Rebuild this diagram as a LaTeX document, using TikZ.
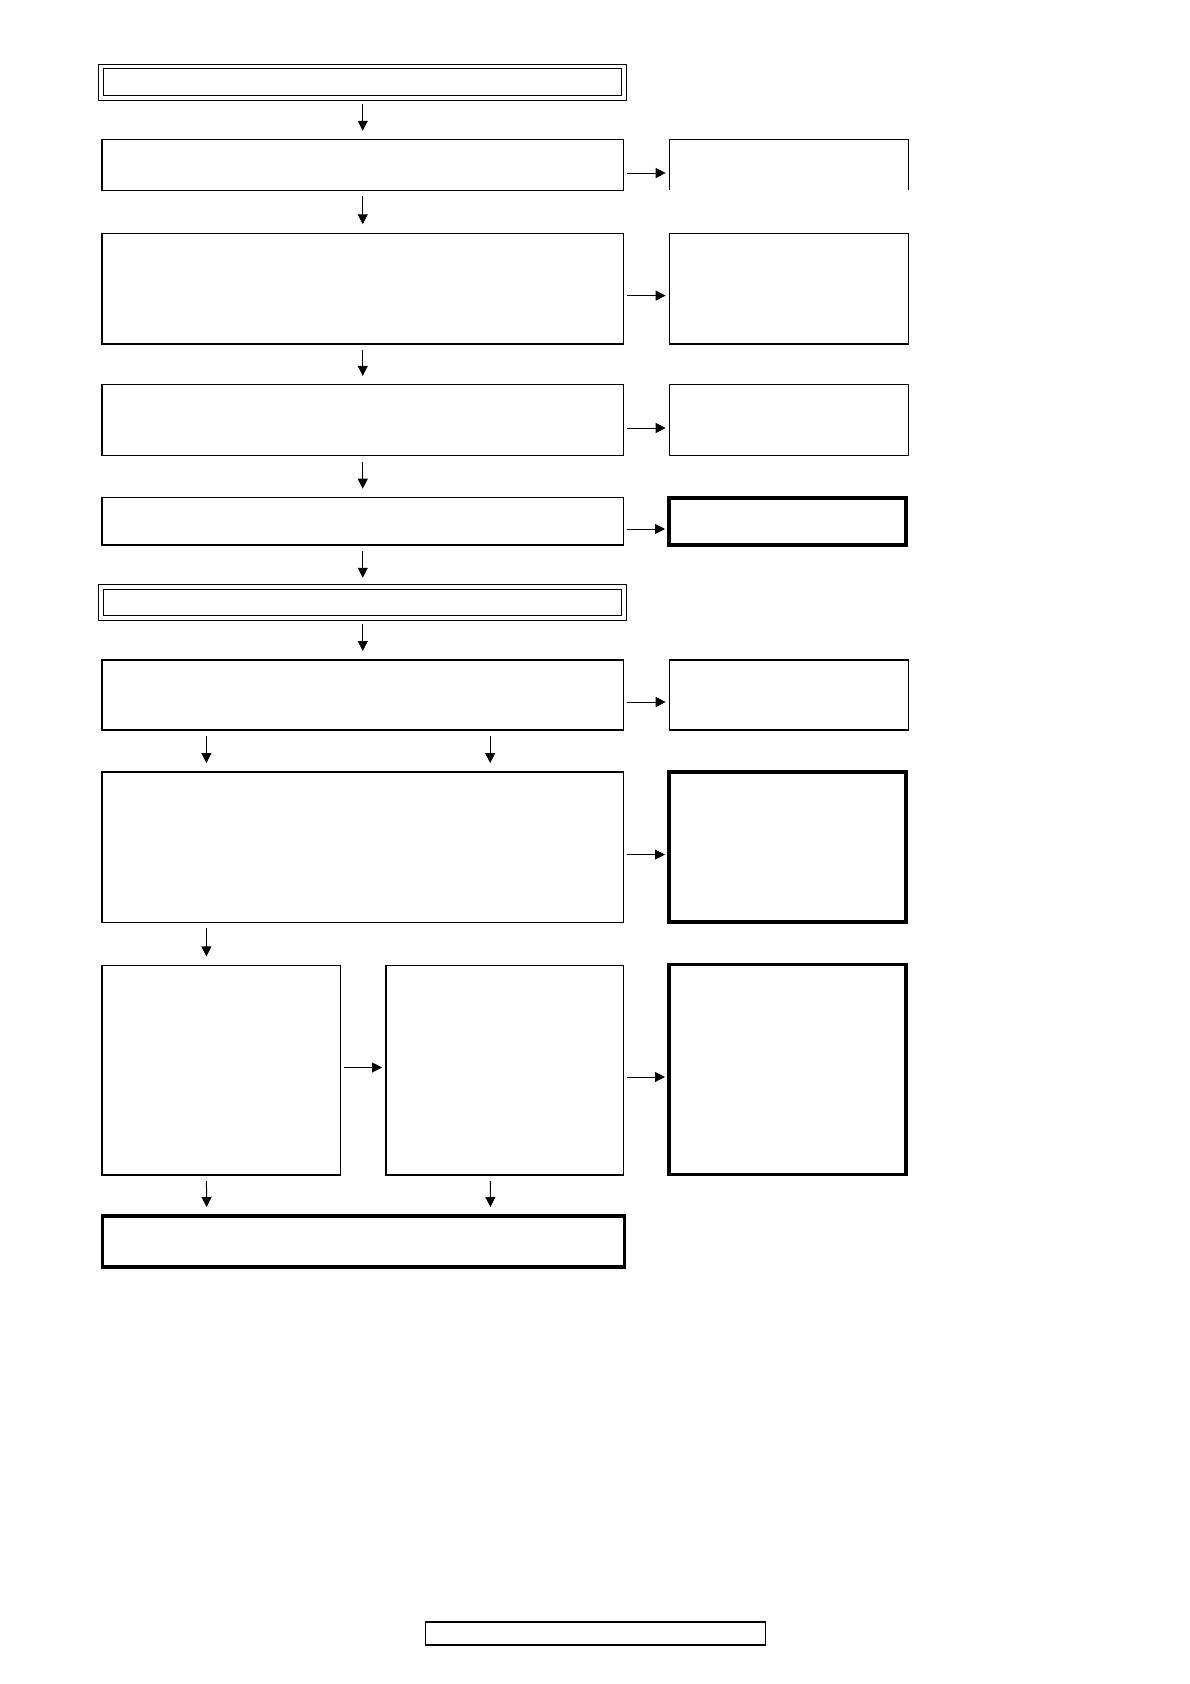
\documentclass[tikz,border=0pt]{standalone}
\usetikzlibrary{arrows.meta,calc}

\begin{document}
\begin{tikzpicture}[x=1pt,y=-1pt,
    box/.style={draw,line width=1.1pt,inner sep=0pt,outer sep=0pt},
    thickbox/.style={draw,line width=3.6pt,inner sep=0pt,outer sep=0pt},
    dblbox/.style={draw,double,line width=1pt,double distance=3.6pt,inner sep=0pt,outer sep=0pt,
      minimum width=523pt,minimum height=31.5pt},
    darr/.style={line width=1pt,-{Triangle[length=10pt,width=10pt]},shorten <=6pt,shorten >=9pt},
    harr/.style={line width=1pt,-{Triangle[length=10pt,width=10pt]},shorten <=3pt,shorten >=4pt}]
  \useasboundingbox (0,0) rectangle (1190,1684);
  % main column
  \node[dblbox] (top) at (362.75,82.3) {};
  \node[box,minimum width=521.5pt,minimum height=50.5pt] (a1) at (362.75,165) {};
  \node[box,minimum width=521.5pt,minimum height=110.7pt] (a2) at (362.75,288.6) {};
  \node[box,minimum width=521.5pt,minimum height=71pt] (a3) at (362.75,420.3) {};
  \node[box,minimum width=521.5pt,minimum height=47.3pt] (a4) at (362.75,521.3) {};
  \node[dblbox] (mid) at (362.75,602.5) {};
  \node[box,minimum width=521.5pt,minimum height=70pt] (a5) at (362.75,695) {};
  \node[box,minimum width=521.5pt,minimum height=150.4pt] (a6) at (362.75,847.2) {};
  \node[box,minimum width=238.8pt,minimum height=209.6pt] (b1) at (221.4,1070.2) {};
  \node[box,minimum width=237.5pt,minimum height=209.6pt] (b2) at (504.75,1070.2) {};
  \node[thickbox,minimum width=522pt,minimum height=51pt] (end) at (363.3,1241.5) {};
  % right column
  \node[inner sep=0pt,outer sep=0pt,minimum width=238.7pt,minimum height=50.5pt] (r1) at (789,165) {};
  \draw[line width=1.1pt] (r1.south west) -- (r1.north west) -- (r1.north east) -- (r1.south east);
  \node[box,minimum width=238.7pt,minimum height=110.7pt] (r2) at (789,288.6) {};
  \node[box,minimum width=238.7pt,minimum height=71pt] (r3) at (789,420.3) {};
  \node[thickbox,minimum width=237pt,minimum height=47pt] (r4) at (787.5,521.3) {};
  \node[box,minimum width=238.7pt,minimum height=70pt] (r5) at (789,695) {};
  \node[thickbox,minimum width=237pt,minimum height=150pt] (r6) at (787.5,847.2) {};
  \node[thickbox,minimum width=237pt,minimum height=210pt] (r7) at (787.5,1069.5) {};
  % footer
  \node[box,minimum width=339.7pt,minimum height=23pt] (foot) at (595.5,1633.5) {};
  % down arrows
  \foreach \u/\v in {top/a1,a1/a2,a2/a3,a3/a4,a4/mid,mid/a5}{%
    \draw[darr] (\u.south) -- (\v.north);
  }
  \draw[darr] ([xshift=104.4pt]a5.south west) -- ([xshift=104.4pt]a6.north west);
  \draw[darr] ([xshift=388.2pt]a5.south west) -- ([xshift=388.2pt]a6.north west);
  \draw[darr] ([xshift=104.4pt]a6.south west) -- ([xshift=104.4pt]a6.south west |- b1.north);
  \draw[darr] ([xshift=104.4pt]b1.south west) -- ([xshift=104.4pt]end.north west);
  \draw[darr] ([xshift=388.2pt]b1.south west |- b2.south) -- ([xshift=388.2pt]end.north west);
  % side arrows
  \foreach \u/\v/\d in {a1/r1/8,a2/r2/7,a3/r3/7.7,a4/r4/7.7,a5/r5/7,a6/r6/7.4,b2/r7/6.8}{%
    \draw[harr] ([yshift=-\d pt]\u.east) -- ([yshift=-\d pt]\u.east -| \v.west);
  }
  \draw[harr] ([yshift=2.7pt]b1.east) -- ([yshift=2.7pt]b1.east -| b2.west);
\end{tikzpicture}
\end{document}
